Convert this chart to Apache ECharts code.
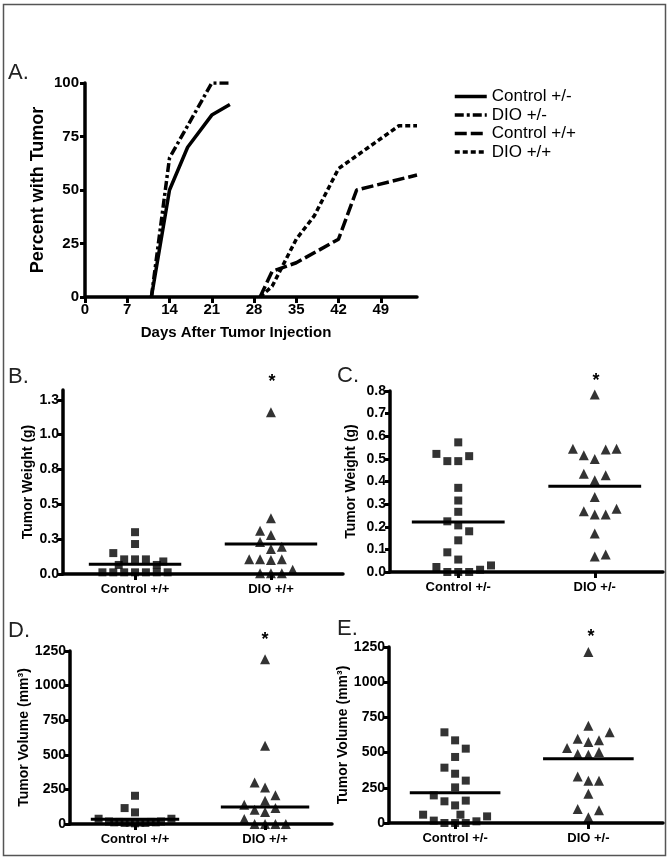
<!DOCTYPE html>
<html>
<head>
    <meta charset="utf-8">
    <title>Tumor incidence, weight and volume</title>
    <script src="https://cdn.jsdelivr.net/npm/echarts@6/dist/echarts.min.js"></script>
    <style>
        html, body { margin: 0; padding: 0; background: #fff; }
    </style>
</head>
<body>
    <div id="main" style="width: 669px; height: 861px;"></div>

    <script>
        // ---- panel A : percent with tumor ----
        var seriesNamesA = ['Control +/-', 'DIO +/-', 'Control +/+', 'DIO +/+'];
        var ctlHetDays = [11, 14, 17, 21, 24];
        var ctlHetPct = [0, 50, 70, 85, 90];
        var dioHetDays = [11, 14, 17, 21, 24];
        var dioHetPct = [0, 65, 80, 100, 100];
        var ctlWtDays = [29, 31, 35, 42, 45, 55];
        var ctlWtPct = [0, 12, 16, 27, 50, 57];
        var dioWtDays = [29, 31, 35, 38, 42, 45, 52, 55];
        var dioWtPct = [0, 5, 27, 38, 60, 66, 80, 80];
        var dayTicks = [0, 7, 14, 21, 28, 35, 42, 49];

        // ---- panel B : tumor weight, +/+ ----
        var catsB = ['Control +/+', 'DIO +/+'];
        var wtCtlWt = [0.30, 0.215, 0.15, 0.105, 0.105, 0.105, 0.09, 0.065, 0.065, 0.012, 0.012, 0.012, 0.012, 0.012, 0.012, 0.012];
        var wtCtlWtCol = [0, 0, -2, -1, 0, 1, 2.6, -1.5, 2, -3, -2, -1, 0, 1, 2, 3];
        var wtDioWt = [1.16, 0.40, 0.31, 0.28, 0.23, 0.18, 0.195, 0.105, 0.105, 0.10, 0.105, 0.03, 0.005, 0.005, 0.005];
        var wtDioWtCol = [0, 0, -1, 0, -1, 0, 1, -2, -1, 0, 1, 2, -1, 0, 1];
        var meanB = [0.07, 0.215];
        var ticksB = [0, 0.25, 0.5, 0.75, 1.0, 1.25];

        // ---- panel C : tumor weight, +/- ----
        var catsC = ['Control +/-', 'DIO +/-'];
        var wtCtlHet = [0.573, 0.522, 0.49, 0.49, 0.512, 0.372, 0.316, 0.266, 0.224, 0.206, 0.18, 0.14, 0.087, 0.055, 0.022, 0.029, 0.01, 0.0, 0.0, 0.0];
        var wtCtlHetCol = [0, -2, -1, 0, 1, 0, 0, 0, -1, 0, 1, 0, -1, 0, -2, 3, 2, -1, 0, 1];
        var wtDioHet = [0.785, 0.545, 0.516, 0.50, 0.541, 0.545, 0.434, 0.406, 0.428, 0.332, 0.268, 0.254, 0.254, 0.28, 0.17, 0.069, 0.077];
        var wtDioHetCol = [0, -2, -1, 0, 1, 2, -1, 0, 1, 0, -1, 0, 1, 2, 0, 0, 1];
        var meanC = [0.221, 0.379];

        // ---- panel D : tumor volume, +/+ ----
        var volCtlWt = [204, 115, 84, 38, 38, 18, 12, 8, 5, 8, 12, 18, 15, 10, 10, 15];
        var volCtlWtCol = [0, -1, 0, -3.5, 3.5, -2.5, -2, -1, 0, 1, 2, 2.5, -1.5, -0.5, 0.5, 1.5];
        var volDioWt = [1190, 565, 300, 264, 207, 168, 139, 103, 87, 115, 36, 0, 0, 0, 0];
        var volDioWtCol = [0, 0, -1, 0, 1, 0, -2, -1, 0, 1, -2, -1, 0, 1, 2];
        var meanD = [35, 123];

        // ---- panel E : tumor volume, +/- ----
        var volCtlHet = [644, 587, 528, 469, 393, 350, 301, 253, 196, 154, 159, 125, 59, 59, 47, 17, 12, 0, 0, 0];
        var volCtlHetCol = [-1, 0, 1, 0, -1, 0, 1, 0, -2, -1, 1, 0, -3, 0.5, 3, -2, 2, -1, 0, 1];
        var volDioHet = [1214, 691, 599, 575, 587, 644, 533, 490, 485, 504, 331, 300, 300, 208, 99, 90, 40];
        var volDioHetCol = [0, 0, -1, 0, 1, 2, -2, -1, 0, 1, -1, 0, 1, 0, -1, 1, 0];
        var meanE = [215, 457];

        var colStep = 0.08;      // horizontal spread of one dot column, in category units
        var meanHalf = 0.34;     // half length of the mean bar

        var FONT = 'Liberation Sans, Arial, sans-serif';

        function pairs(xs, ys) {
            var out = [];
            for (var i = 0; i < xs.length; i++) out.push([xs[i], ys[i]]);
            return out;
        }

        function dots(pos, vals, cols) {
            var out = [];
            for (var i = 0; i < vals.length; i++) out.push([pos + cols[i] * colStep, vals[i]]);
            return out;
        }

        function dotSeries(idx, pos, vals, cols, shape, size) {
            return {
                type: 'scatter', xAxisIndex: idx, yAxisIndex: idx,
                symbol: shape, symbolSize: size, clip: false,
                itemStyle: { color: '#000' },
                data: dots(pos, vals, cols), z: 3
            };
        }

        function meanSeries(idx, pos, m) {
            return {
                type: 'line', xAxisIndex: idx, yAxisIndex: idx,
                symbol: 'none', silent: true,
                lineStyle: { color: '#000', width: 3 },
                data: [[pos - meanHalf, m], [pos + meanHalf, m]], z: 4
            };
        }

        var axisLine = { show: true, onZero: false, lineStyle: { color: '#000', width: 3.5 } };
        var tickStyle = { color: '#000', width: 3 };

        function catAxis(idx, min, max, cats) {
            return {
                type: 'value', gridIndex: idx, min: min, max: max,
                axisLine: axisLine, splitLine: { show: false },
                axisTick: { show: true, length: 6, lineStyle: tickStyle, customValues: [1, 2] },
                axisLabel: {
                    customValues: [1, 2], margin: 9, color: '#000', fontWeight: 'bold',
                    fontSize: 13, fontFamily: FONT,
                    formatter: function (v) { return cats[Math.round(v) - 1]; }
                }
            };
        }

        function valAxis(idx, max, ticks, name, gap, fmt) {
            return {
                type: 'value', gridIndex: idx, min: 0, max: max,
                name: name, nameLocation: 'middle', nameGap: gap, nameRotate: 90,
                nameTextStyle: { color: '#000', fontWeight: 'bold', fontSize: 14, fontFamily: FONT },
                axisLine: axisLine, splitLine: { show: false },
                axisTick: { show: true, length: 5, lineStyle: tickStyle, customValues: ticks },
                axisLabel: {
                    customValues: ticks, margin: 4, color: '#000', fontWeight: 'bold',
                    fontSize: 14, fontFamily: FONT, formatter: fmt
                }
            };
        }

        var oneDec = function (v) { return v.toFixed(1); };
        var plain = function (v) { return String(v); };

        var chart = echarts.init(document.getElementById('main'), null, { renderer: 'canvas' });

        var option = {
            backgroundColor: '#fff',
            animation: false,
            grid: [
                { left: 85, top: 83, width: 332, height: 214, outerBoundsMode: 'none' },
                { left: 63, top: 390, width: 280, height: 184, outerBoundsMode: 'none' },
                { left: 390, top: 391, width: 273, height: 181, outerBoundsMode: 'none' },
                { left: 70, top: 651, width: 262, height: 173, outerBoundsMode: 'none' },
                { left: 389, top: 647, width: 274, height: 176, outerBoundsMode: 'none' }
            ],
            legend: {
                data: seriesNamesA,
                orient: 'vertical', left: 453, top: 88, padding: 0,
                itemWidth: 32, itemHeight: 14, itemGap: 1.5,
                itemStyle: { color: 'rgba(0,0,0,0)', borderWidth: 0, opacity: 0 },
                lineStyle: { width: 3.5 },
                textStyle: { color: '#000', fontSize: 17, fontFamily: FONT, padding: [0, 0, 0, 0] }
            },
            xAxis: [
                {
                    type: 'value', gridIndex: 0, min: 0, max: 55,
                    name: 'Days After Tumor Injection', nameLocation: 'middle', nameGap: 28,
                    nameTextStyle: { color: '#000', fontWeight: 'bold', fontSize: 15, fontFamily: FONT, padding: [0, 30, 0, 0] },
                    axisLine: axisLine, splitLine: { show: false },
                    axisTick: { show: true, length: 6, lineStyle: tickStyle, customValues: dayTicks },
                    axisLabel: { customValues: dayTicks, margin: 5, color: '#000', fontWeight: 'bold', fontSize: 15, fontFamily: FONT }
                },
                catAxis(1, 0.47, 2.53, catsB),
                catAxis(2, 0.5, 2.5, catsC),
                catAxis(3, 0.5, 2.515, catsB),
                catAxis(4, 0.504, 2.56, catsC)
            ],
            yAxis: [
                {
                    type: 'value', gridIndex: 0, min: 0, max: 100, interval: 25,
                    name: 'Percent with Tumor', nameLocation: 'middle', nameGap: 38, nameRotate: 90,
                    nameTextStyle: { color: '#000', fontWeight: 'bold', fontSize: 18, fontFamily: FONT },
                    axisLine: axisLine, splitLine: { show: false },
                    axisTick: { show: true, length: 5, lineStyle: tickStyle },
                    axisLabel: { margin: 6, color: '#000', fontWeight: 'bold', fontSize: 15, fontFamily: FONT }
                },
                valAxis(1, 1.32, ticksB, 'Tumor Weight (g)', 27, oneDec),
                valAxis(2, 0.8, [0, 0.1, 0.2, 0.3, 0.4, 0.5, 0.6, 0.7, 0.8], 'Tumor Weight (g)', 32, oneDec),
                valAxis(3, 1250, [0, 250, 500, 750, 1000, 1250], 'Tumor Volume (mm³)', 38, plain),
                valAxis(4, 1250, [0, 250, 500, 750, 1000, 1250], 'Tumor Volume (mm³)', 31, plain)
            ],
            series: [
                { name: 'Control +/-', type: 'line', xAxisIndex: 0, yAxisIndex: 0, symbol: 'none',
                  lineStyle: { color: '#000', width: 3.5, type: 'solid' }, itemStyle: { color: '#000' },
                  data: pairs(ctlHetDays, ctlHetPct) },
                { name: 'DIO +/-', type: 'line', xAxisIndex: 0, yAxisIndex: 0, symbol: 'none',
                  lineStyle: { color: '#000', width: 3.5, type: [9, 3, 3, 3] }, itemStyle: { color: '#000' },
                  data: pairs(dioHetDays, dioHetPct) },
                { name: 'Control +/+', type: 'line', xAxisIndex: 0, yAxisIndex: 0, symbol: 'none',
                  lineStyle: { color: '#000', width: 3.5, type: [12, 4] }, itemStyle: { color: '#000' },
                  data: pairs(ctlWtDays, ctlWtPct) },
                { name: 'DIO +/+', type: 'line', xAxisIndex: 0, yAxisIndex: 0, symbol: 'none',
                  lineStyle: { color: '#000', width: 3.5, type: [5, 3] }, itemStyle: { color: '#000' },
                  data: pairs(dioWtDays, dioWtPct) },

                dotSeries(1, 1, wtCtlWt, wtCtlWtCol, 'rect', 8),
                dotSeries(1, 2, wtDioWt, wtDioWtCol, 'triangle', 10),
                meanSeries(1, 1, meanB[0]), meanSeries(1, 2, meanB[1]),

                dotSeries(2, 1, wtCtlHet, wtCtlHetCol, 'rect', 8),
                dotSeries(2, 2, wtDioHet, wtDioHetCol, 'triangle', 10),
                meanSeries(2, 1, meanC[0]), meanSeries(2, 2, meanC[1]),

                dotSeries(3, 1, volCtlWt, volCtlWtCol, 'rect', 8),
                dotSeries(3, 2, volDioWt, volDioWtCol, 'triangle', 10),
                meanSeries(3, 1, meanD[0]), meanSeries(3, 2, meanD[1]),

                dotSeries(4, 1, volCtlHet, volCtlHetCol, 'rect', 8),
                dotSeries(4, 2, volDioHet, volDioHetCol, 'triangle', 10),
                meanSeries(4, 1, meanE[0]), meanSeries(4, 2, meanE[1])
            ],
            graphic: [
                { type: 'rect', shape: { x: 3.5, y: 4.5, width: 662, height: 851 },
                  style: { fill: 'none', stroke: '#555', lineWidth: 1.5 }, silent: true },
                // panel letters
                { type: 'text', left: 8, top: 62, style: { text: 'A.', fontSize: 22, fontFamily: 'Liberation Sans Narrow, Liberation Sans', fill: '#222' } },
                { type: 'text', left: 8, top: 366, style: { text: 'B.', fontSize: 22, fontFamily: 'Liberation Sans Narrow, Liberation Sans', fill: '#222' } },
                { type: 'text', left: 337, top: 365, style: { text: 'C.', fontSize: 22, fontFamily: 'Liberation Sans Narrow, Liberation Sans', fill: '#222' } },
                { type: 'text', left: 8, top: 620, style: { text: 'D.', fontSize: 22, fontFamily: 'Liberation Sans Narrow, Liberation Sans', fill: '#222' } },
                { type: 'text', left: 337, top: 618, style: { text: 'E.', fontSize: 22, fontFamily: 'Liberation Sans Narrow, Liberation Sans', fill: '#222' } },
                // significance marks
                { type: 'text', x: 272, y: 382, style: { text: '*', fontSize: 18, fontWeight: 'bold', fontFamily: FONT, fill: '#000', align: 'center', verticalAlign: 'middle' } },
                { type: 'text', x: 596, y: 381, style: { text: '*', fontSize: 18, fontWeight: 'bold', fontFamily: FONT, fill: '#000', align: 'center', verticalAlign: 'middle' } },
                { type: 'text', x: 265, y: 640, style: { text: '*', fontSize: 18, fontWeight: 'bold', fontFamily: FONT, fill: '#000', align: 'center', verticalAlign: 'middle' } },
                { type: 'text', x: 591, y: 637, style: { text: '*', fontSize: 18, fontWeight: 'bold', fontFamily: FONT, fill: '#000', align: 'center', verticalAlign: 'middle' } }
            ]
        };

        chart.setOption(option);
    </script>
</body>
</html>
